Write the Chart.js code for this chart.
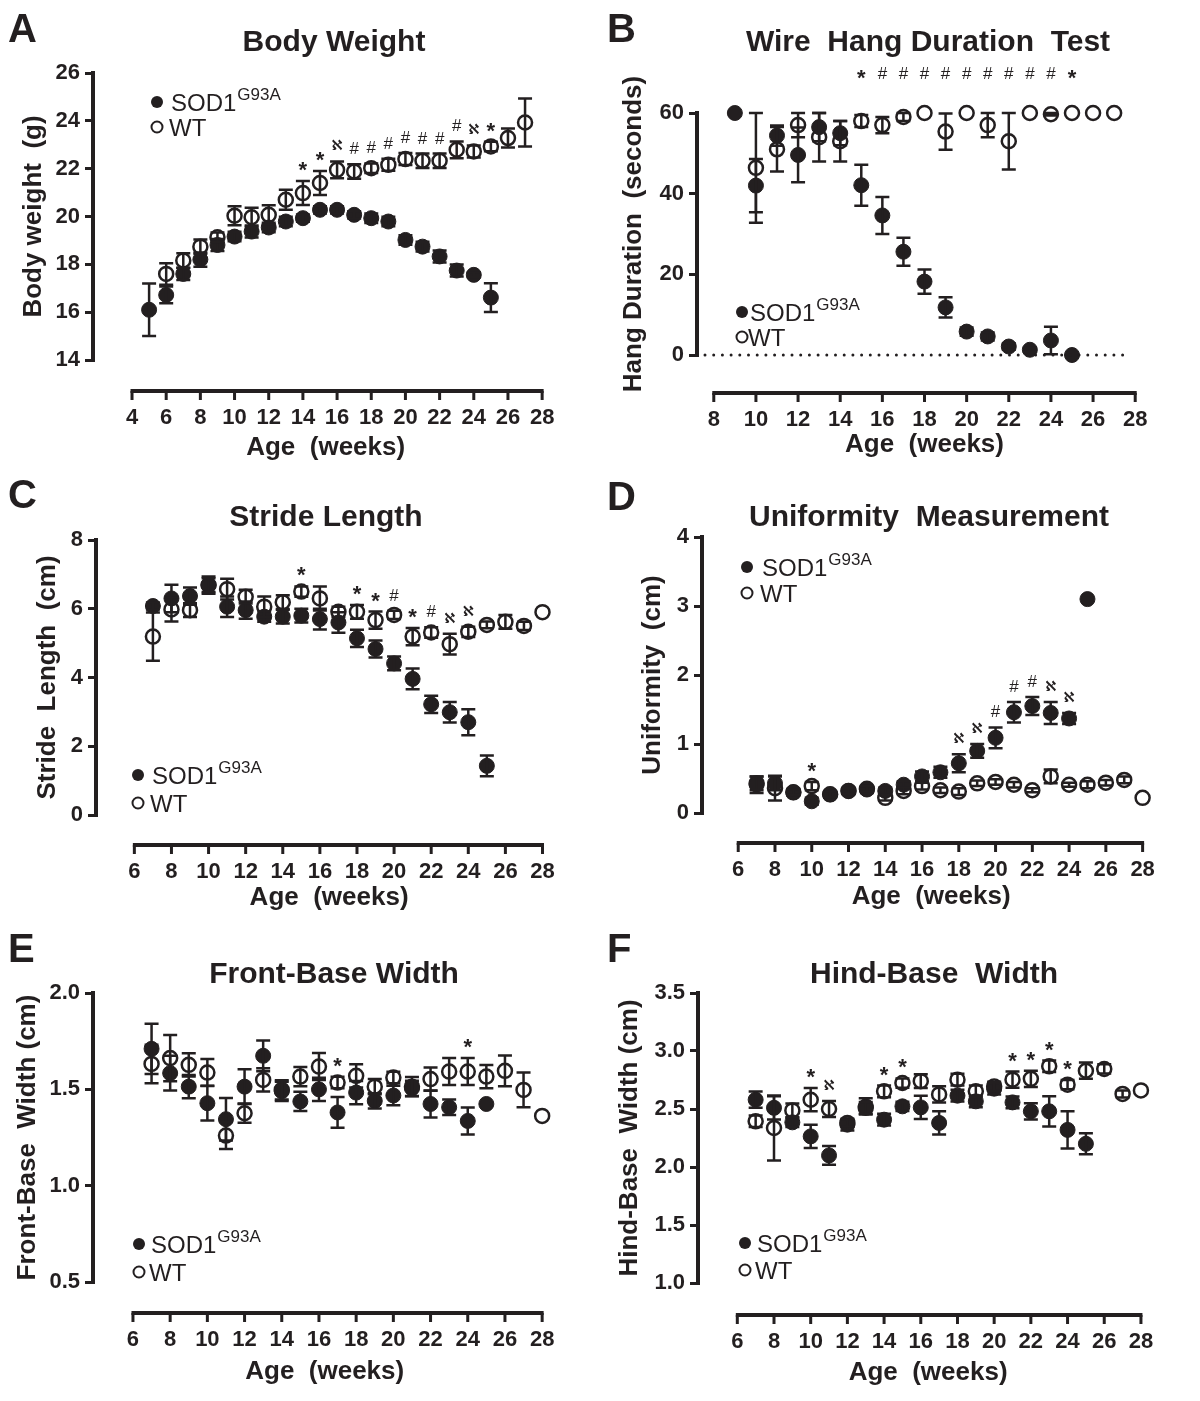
<!DOCTYPE html>
<html lang="en">
<head>
<meta charset="UTF-8">
<script src="https://cdn.jsdelivr.net/npm/chart.js"></script>
<style>
  body { margin: 0; background: #fff; }
  #fig { position: relative; width: 1200px; height: 1401px; }
  .panel { position: absolute; width: 600px; height: 467px; }
</style>
</head>
<body>
<div id="fig">
  <div class="panel" style="left:0;top:0"><canvas id="cA" width="600" height="467"></canvas></div>
  <div class="panel" style="left:600px;top:0"><canvas id="cB" width="600" height="467"></canvas></div>
  <div class="panel" style="left:0;top:467px"><canvas id="cC" width="600" height="467"></canvas></div>
  <div class="panel" style="left:600px;top:467px"><canvas id="cD" width="600" height="467"></canvas></div>
  <div class="panel" style="left:0;top:934px"><canvas id="cE" width="600" height="467"></canvas></div>
  <div class="panel" style="left:600px;top:934px"><canvas id="cF" width="600" height="467"></canvas></div>
</div>
<script>
// ---- A: body weight (g)
const sodWeeksA = [5,6,7,8,9,10,11,12,13,14,15,16,17,18,19,20,21,22,23,24,25];
const sodWeightA = [16.1,16.72,17.6,18.2,18.81,19.16,19.37,19.54,19.79,19.93,20.28,20.28,20.07,19.93,19.79,19.02,18.74,18.33,17.74,17.56,16.61];
const sodSemA = [1.1,0.35,0.25,0.3,0.25,0.2,0.25,0.2,0.2,0.15,0.15,0.15,0.15,0.2,0.2,0.2,0.2,0.25,0.25,0.1,0.6];
const wtWeeksA = [6,7,8,9,10,11,12,13,14,15,16,17,18,19,20,21,22,23,24,25,26,27];
const wtWeightA = [17.6,18.16,18.74,19.13,20.03,19.97,20.07,20.7,20.98,21.4,21.95,21.88,22.02,22.16,22.4,22.33,22.33,22.79,22.72,22.93,23.28,23.93];
const wtSemA = [0.45,0.3,0.3,0.2,0.4,0.4,0.4,0.42,0.5,0.5,0.35,0.3,0.2,0.25,0.25,0.3,0.3,0.35,0.25,0.2,0.4,1.0];
const sigWeeksA = [14,15,16,17,18,19,20,21,22,23,24,25];
const sigMarksA = ['*','*','ℵ','#','#','#','#','#','#','#','ℵ','*'];
const xTicksA = [4,6,8,10,12,14,16,18,20,22,24,26,28];
const yTicksA = [14,16,18,20,22,24,26];

// ---- B: wire hang duration (s)
const sodWeeksB = [9,10,11,12,13,14,15,16,17,18,19,20,21,22,23,24,25];
const sodHangB = [60,42,54.4,49.6,56.5,55,42.1,34.6,25.6,18.2,11.8,5.8,4.6,2.1,1.3,3.6,0];
const sodSemB = [0,6.6,2.5,6.8,3.5,3,5.1,4.6,3.5,3,2.5,1,1,0.8,0.5,3.4,0];
const wtWeeksB = [10,11,12,13,14,15,16,17,18,19,20,21,22,23,24,25,26,27];
const wtHangB = [46.4,51,57,54,53,58,57,59,60,55.4,60,57,53,60,59.7,60,60,60];
const wtSemB = [13.6,5.5,3,6,5,1.5,2,1,0,4.5,0,3,7,0,0.3,0,0,0];
const sigWeeksB = [15,16,17,18,19,20,21,22,23,24,25];
const sigMarksB = ['*','#','#','#','#','#','#','#','#','#','*'];
const xTicksB = [8,10,12,14,16,18,20,22,24,26,28];
const yTicksB = [0,20,40,60];

// ---- C: stride length (cm)
const sodWeeksC = [7,8,9,10,11,12,13,14,15,16,17,18,19,20,21,22,23,24,25];
const sodStrideC = [6.08,6.3,6.37,6.69,6.06,5.96,5.77,5.77,5.8,5.7,5.6,5.14,4.83,4.41,3.96,3.22,2.99,2.7,1.43];
const sodSemC = [0.1,0.4,0.25,0.25,0.3,0.25,0.15,0.2,0.2,0.3,0.3,0.25,0.25,0.2,0.3,0.25,0.3,0.38,0.3];
const wtWeeksC = [7,8,9,10,11,12,13,14,15,16,17,18,19,20,21,22,23,24,25,26,27,28];
const wtStrideC = [5.19,5.98,5.96,6.69,6.57,6.35,6.06,6.19,6.5,6.3,5.91,5.91,5.67,5.82,5.19,5.31,4.97,5.33,5.53,5.62,5.5,5.9];
const wtSemC = [0.7,0.35,0.2,0.2,0.3,0.2,0.3,0.2,0.15,0.35,0.15,0.2,0.25,0.12,0.25,0.15,0.3,0.15,0.1,0.2,0.12,0];
const sigWeeksC = [15,18,19,20,21,22,23,24];
const sigMarksC = ['*','*','*','#','*','#','ℵ','ℵ'];
const xTicksC = [6,8,10,12,14,16,18,20,22,24,26,28];
const yTicksC = [0,2,4,6,8];

// ---- D: uniformity (cm)
const sodWeeksD = [7,8,9,10,11,12,13,14,15,16,17,18,19,20,21,22,23,24,25];
const sodUnifD = [0.41,0.43,0.3,0.17,0.27,0.32,0.34,0.32,0.41,0.53,0.59,0.72,0.9,1.09,1.46,1.55,1.45,1.37,3.1];
const sodSemD = [0.12,0.1,0.05,0.05,0.05,0.05,0.05,0.05,0.05,0.07,0.08,0.13,0.1,0.15,0.15,0.13,0.16,0.08,0];
const wtWeeksD = [7,8,9,10,11,12,13,14,15,16,17,18,19,20,21,22,23,24,25,26,27,28];
const wtUnifD = [0.43,0.36,0.3,0.39,0.27,0.32,0.35,0.22,0.32,0.39,0.33,0.31,0.43,0.45,0.41,0.33,0.53,0.41,0.41,0.44,0.48,0.22];
const wtSemD = [0.1,0.18,0.04,0.06,0.04,0.04,0.04,0.04,0.05,0.05,0.04,0.05,0.04,0.04,0.04,0.03,0.1,0.03,0.05,0.04,0.05,0];
const sigWeeksD = [10,18,19,20,21,22,23,24];
const sigMarksD = ['*','ℵ','ℵ','#','#','#','ℵ','ℵ'];
const xTicksD = [6,8,10,12,14,16,18,20,22,24,26,28];
const yTicksD = [0,1,2,3,4];

// ---- E: front-base width (cm)
const sodWeeksE = [7,8,9,10,11,12,13,14,15,16,17,18,19,20,21,22,23,24,25];
const sodWidthE = [1.71,1.584,1.514,1.428,1.345,1.514,1.674,1.49,1.437,1.5,1.38,1.483,1.44,1.468,1.505,1.424,1.407,1.336,1.424];
const sodSemE = [0.13,0.09,0.06,0.09,0.11,0.09,0.08,0.05,0.05,0.06,0.08,0.06,0.04,0.05,0.04,0.07,0.04,0.07,0];
const wtWeeksE = [7,8,9,10,11,12,13,14,15,16,17,18,19,20,21,22,23,24,25,26,27,28];
const wtWidthE = [1.632,1.662,1.627,1.587,1.26,1.376,1.549,1.497,1.566,1.618,1.535,1.57,1.514,1.561,1.514,1.553,1.592,1.592,1.566,1.596,1.497,1.362];
const wtSemE = [0.1,0.12,0.06,0.07,0.07,0.05,0.06,0.05,0.05,0.07,0.03,0.06,0.04,0.03,0.05,0.06,0.07,0.07,0.06,0.08,0.09,0];
const sigWeeksE = [17,24];
const sigMarksE = ['*','*'];
const xTicksE = [6,8,10,12,14,16,18,20,22,24,26,28];
const yTicksE = [0.5,1.0,1.5,2.0];

// ---- F: hind-base width (cm)
const sodWeeksF = [7,8,9,10,11,12,13,14,15,16,17,18,19,20,21,22,23,24,25];
const sodWidthF = [2.58,2.51,2.385,2.264,2.1,2.365,2.523,2.408,2.523,2.514,2.38,2.615,2.566,2.675,2.557,2.48,2.48,2.32,2.2];
const sodSemF = [0.07,0.1,0.04,0.1,0.08,0.05,0.07,0.05,0.04,0.1,0.1,0.05,0.05,0.05,0.05,0.07,0.13,0.16,0.09];
const wtWeeksF = [7,8,9,10,11,12,13,14,15,16,17,18,19,20,21,22,23,24,25,26,27,28];
const wtWidthF = [2.394,2.336,2.488,2.58,2.5,2.38,2.51,2.652,2.724,2.74,2.626,2.753,2.652,2.695,2.753,2.76,2.868,2.71,2.83,2.845,2.63,2.66];
const wtSemF = [0.05,0.28,0.06,0.1,0.07,0.03,0.05,0.05,0.04,0.06,0.07,0.05,0.05,0.04,0.07,0.07,0.05,0.04,0.07,0.04,0.03,0];
const sigWeeksF = [10,11,14,15,21,22,23,24];
const sigMarksF = ['*','ℵ','*','*','*','*','*','*'];
const xTicksF = [6,8,10,12,14,16,18,20,22,24,26,28];
const yTicksF = [1.0,1.5,2.0,2.5,3.0,3.5];

const INK = '#231f20';
const FONT = "'Liberation Sans', Arial, Helvetica, sans-serif";

// draws the Prism-style extras: offset x axis, error bars, stars, legend, titles
const decor = {
  id: 'decor',
  afterDatasetsDraw(chart) {
    const p = chart.options.plugins.decor;
    const ctx = chart.ctx;
    const xs = chart.scales.x, ys = chart.scales.y;
    ctx.save();
    ctx.strokeStyle = INK;
    ctx.fillStyle = INK;

    // error bars
    chart.data.datasets.forEach(ds => {
      ctx.lineWidth = 2.5;
      ds.data.forEach((pt, i) => {
        const e = ds.sem[i];
        if (!e) return;
        const x = xs.getPixelForValue(pt.x);
        const y1 = ys.getPixelForValue(pt.y + e);
        const y2 = ys.getPixelForValue(pt.y - e);
        ctx.beginPath();
        ctx.moveTo(x, y1); ctx.lineTo(x, y2);
        ctx.moveTo(x - 7, y1); ctx.lineTo(x + 7, y1);
        ctx.moveTo(x - 7, y2); ctx.lineTo(x + 7, y2);
        ctx.stroke();
      });
    });

    // dotted zero line
    if (p.zeroLine) {
      ctx.save();
      ctx.lineWidth = 3;
      ctx.lineCap = 'round';
      ctx.setLineDash([0, 8.7]);
      const y0 = ys.getPixelForValue(0);
      ctx.beginPath();
      ctx.moveTo(chart.chartArea.left + 8, y0);
      ctx.lineTo(xs.getPixelForValue(27.6), y0);
      ctx.stroke();
      ctx.restore();
    }

    // significance marks, centred ~16px above the highest error cap
    ctx.textAlign = 'center';
    ctx.textBaseline = 'alphabetic';
    p.sigWeeks.forEach((w, i) => {
      let top = -Infinity;
      chart.data.datasets.forEach(ds => {
        ds.data.forEach((pt, j) => { if (pt.x === w) top = Math.max(top, pt.y + ds.sem[j]); });
      });
      const x = xs.getPixelForValue(w);
      const m = p.sigMarks[i];
      const cy = p.sigY !== undefined ? ys.getPixelForValue(p.sigY) : ys.getPixelForValue(top) - 16;
      if (m === '*') { ctx.font = 'bold 22px ' + FONT; ctx.fillText(m, x, cy + 12); }
      else if (m === '#') { ctx.font = '17px ' + FONT; ctx.fillText(m, x, cy + 6); }
      else { ctx.font = 'bold 14px "DejaVu Sans", sans-serif'; ctx.fillText(m, x, cy + 5); }
    });

    // x axis line with ticks, detached from the y axis
    const xa = xs.getPixelForValue(p.xTicks[0]);
    const xb = xs.getPixelForValue(p.xTicks[p.xTicks.length - 1]);
    ctx.lineWidth = 4;
    ctx.beginPath();
    ctx.moveTo(xa - 1.5, p.axisY); ctx.lineTo(xb + 1.5, p.axisY);
    ctx.stroke();
    ctx.lineWidth = 3;
    p.xTicks.forEach(v => {
      const x = xs.getPixelForValue(v);
      ctx.beginPath(); ctx.moveTo(x, p.axisY); ctx.lineTo(x, p.axisY + 9); ctx.stroke();
    });

    // legend
    ctx.textAlign = 'left';
    ctx.beginPath(); ctx.arc(p.legX, p.legY1, 6, 0, Math.PI * 2); ctx.fill();
    ctx.lineWidth = 2;
    ctx.beginPath(); ctx.arc(p.legX, p.legY2, 5.5, 0, Math.PI * 2); ctx.stroke();
    ctx.font = '24px ' + FONT;
    ctx.fillText('SOD1', p.legX + p.legDx, p.legY1 + 9);
    const w1 = ctx.measureText('SOD1').width;
    ctx.fillText('WT', p.legX + p.legDx - 2, p.legY2 + 9);
    ctx.font = '17px ' + FONT;
    ctx.fillText('G93A', p.legX + p.legDx + w1 + 1, p.legY1 - 2);

    // title and panel letter
    ctx.textAlign = 'center';
    ctx.textBaseline = 'middle';
    ctx.font = 'bold 30px ' + FONT;
    ctx.fillText(p.title, p.titleX, p.titleY);
    ctx.textAlign = 'left';
    ctx.textBaseline = 'alphabetic';
    ctx.font = 'bold 40px ' + FONT;
    ctx.fillText(p.letter, p.letterX, p.letterY);
    ctx.restore();
  }
};

function makePanel(id, p) {
  const first = p.xTicks[0], last = p.xTicks[p.xTicks.length - 1];
  const k = (p.xLastPx - p.xFirstPx) / (last - first);
  const xMin = first - (p.xFirstPx - p.left) / k;
  const xMax = last + (p.right - p.xLastPx) / k;
  const padLeft = p.yTitleX - 15;
  const scaleBottom = p.xTitleY + 15;
  const tickFont = { family: FONT, size: 22, weight: 'bold' };
  const titleFont = { family: FONT, size: 26, weight: 'bold' };

  new Chart(document.getElementById(id), {
    type: 'scatter',
    data: {
      datasets: [
        { label: 'SOD1G93A', data: p.sodX.map((x, i) => ({ x, y: p.sodY[i] })), sem: p.sodE,
          pointRadius: 7.5, pointBackgroundColor: INK, pointBorderColor: INK, pointBorderWidth: 1, clip: false },
        { label: 'WT', data: p.wtX.map((x, i) => ({ x, y: p.wtY[i] })), sem: p.wtE,
          pointRadius: 7, pointBackgroundColor: 'rgba(255,255,255,0)', pointBorderColor: INK, pointBorderWidth: 2.5, clip: false }
      ]
    },
    options: {
      responsive: false,
      animation: false,
      events: [],
      layout: { padding: { left: padLeft, top: p.top, right: 600 - p.right, bottom: 467 - scaleBottom } },
      plugins: { legend: { display: false }, tooltip: { enabled: false }, decor: p },
      scales: {
        x: {
          type: 'linear', min: xMin, max: xMax,
          afterBuildTicks: s => { s.ticks = p.xTicks.map(v => ({ value: v })); },
          afterFit: s => { s.height = scaleBottom - p.bottom; },
          grid: { display: false, drawTicks: false },
          border: { display: false },
          ticks: { padding: p.axisY - p.bottom + 14, font: tickFont, color: INK, maxRotation: 0, autoSkip: false },
          title: { display: true, text: 'Age  (weeks)', font: titleFont, color: INK, padding: 0 }
        },
        y: {
          min: p.yTicks[0], max: p.yTicks[p.yTicks.length - 1],
          afterBuildTicks: s => { s.ticks = p.yTicks.map(v => ({ value: v })); },
          afterFit: s => { s.width = p.left - padLeft; },
          grid: { drawOnChartArea: false, drawTicks: true, tickLength: 8, lineWidth: 3, color: INK },
          border: { display: true, width: 4, color: INK },
          ticks: { padding: 5, font: tickFont, color: INK, callback: v => p.yFmt ? v.toFixed(1) : v },
          title: { display: true, text: p.yTitle, font: titleFont, color: INK, padding: 0 }
        }
      }
    },
    plugins: [decor]
  });
}

makePanel('cA', {
  sodX: sodWeeksA, sodY: sodWeightA, sodE: sodSemA, wtX: wtWeeksA, wtY: wtWeightA, wtE: wtSemA,
  sigWeeks: sigWeeksA, sigMarks: sigMarksA, xTicks: xTicksA, yTicks: yTicksA,
  left: 93, top: 73, bottom: 360, right: 582, axisY: 391, xFirstPx: 134, xLastPx: 565,
  xTitleY: 448, yTitleX: 33, yTitle: 'Body weight  (g)',
  letter: 'A', letterX: 8, letterY: 42, title: 'Body Weight', titleX: 334, titleY: 43,
  legX: 157, legY1: 102, legY2: 127, legDx: 14
});
makePanel('cB', {
  sodX: sodWeeksB, sodY: sodHangB, sodE: sodSemB, wtX: wtWeeksB, wtY: wtHangB, wtE: wtSemB,
  sigWeeks: sigWeeksB, sigMarks: sigMarksB, sigY: 70, zeroLine: true, xTicks: xTicksB, yTicks: yTicksB,
  left: 97, top: 113, bottom: 355, right: 585, axisY: 393, xFirstPx: 115, xLastPx: 567,
  xTitleY: 445, yTitleX: 33, yTitle: 'Hang Duration  (seconds)',
  letter: 'B', letterX: 7, letterY: 42, title: 'Wire  Hang Duration  Test', titleX: 328, titleY: 43,
  legX: 142, legY1: 312, legY2: 337, legDx: 8
});
makePanel('cC', {
  sodX: sodWeeksC, sodY: sodStrideC, sodE: sodSemC, wtX: wtWeeksC, wtY: wtStrideC, wtE: wtSemC,
  sigWeeks: sigWeeksC, sigMarks: sigMarksC, xTicks: xTicksC, yTicks: yTicksC,
  left: 96, top: 73, bottom: 348, right: 570, axisY: 378, xFirstPx: 135, xLastPx: 550,
  xTitleY: 431, yTitleX: 47, yTitle: 'Stride  Length  (cm)',
  letter: 'C', letterX: 8, letterY: 41, title: 'Stride Length', titleX: 326, titleY: 51,
  legX: 138, legY1: 308, legY2: 336, legDx: 14
});
makePanel('cD', {
  sodX: sodWeeksD, sodY: sodUnifD, sodE: sodSemD, wtX: wtWeeksD, wtY: wtUnifD, wtE: wtSemD,
  sigWeeks: sigWeeksD, sigMarks: sigMarksD, xTicks: xTicksD, yTicks: yTicksD,
  left: 102, top: 70, bottom: 346, right: 570, axisY: 376, xFirstPx: 139, xLastPx: 552,
  xTitleY: 430, yTitleX: 52, yTitle: 'Uniformity  (cm)',
  letter: 'D', letterX: 7, letterY: 43, title: 'Uniformity  Measurement', titleX: 329, titleY: 51,
  legX: 147, legY1: 100, legY2: 126, legDx: 15
});
makePanel('cE', {
  sodX: sodWeeksE, sodY: sodWidthE, sodE: sodSemE, wtX: wtWeeksE, wtY: wtWidthE, wtE: wtSemE,
  sigWeeks: sigWeeksE, sigMarks: sigMarksE, xTicks: xTicksE, yTicks: yTicksE, yFmt: true,
  left: 93, top: 59, bottom: 348, right: 580, axisY: 379, xFirstPx: 135, xLastPx: 565,
  xTitleY: 438, yTitleX: 27, yTitle: 'Front-Base  Width (cm)',
  letter: 'E', letterX: 8, letterY: 28, title: 'Front-Base Width', titleX: 334, titleY: 41,
  legX: 139, legY1: 310, legY2: 338, legDx: 12
});
makePanel('cF', {
  sodX: sodWeeksF, sodY: sodWidthF, sodE: sodSemF, wtX: wtWeeksF, wtY: wtWidthF, wtE: wtSemF,
  sigWeeks: sigWeeksF, sigMarks: sigMarksF, xTicks: xTicksF, yTicks: yTicksF, yFmt: true,
  left: 98, top: 59, bottom: 349, right: 578, axisY: 381, xFirstPx: 139, xLastPx: 560,
  xTitleY: 439, yTitleX: 29, yTitle: 'Hind-Base  Width (cm)',
  letter: 'F', letterX: 7, letterY: 28, title: 'Hind-Base  Width', titleX: 334, titleY: 41,
  legX: 145, legY1: 309, legY2: 336, legDx: 12
});
</script>
</body>
</html>
